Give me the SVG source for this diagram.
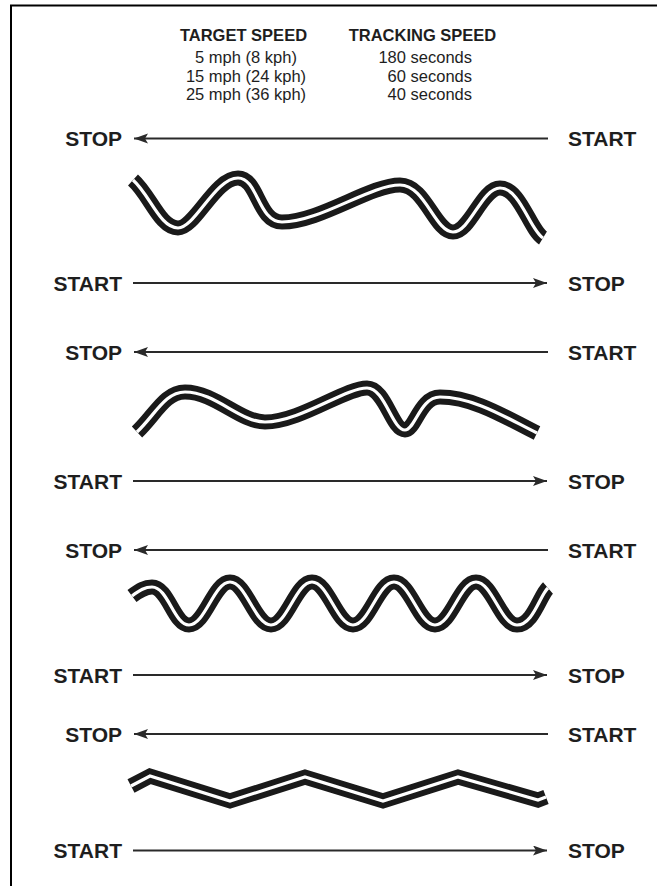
<svg xmlns="http://www.w3.org/2000/svg" width="657" height="886" viewBox="0 0 657 886">
<style>
.lbl{font-family:"Liberation Sans",Arial,sans-serif;font-weight:bold;font-size:21px;fill:#1e1e1e}
.hd{font-family:"Liberation Sans",Arial,sans-serif;font-weight:bold;font-size:16.5px;fill:#1e1e1e}
.tx{font-family:"Liberation Sans",Arial,sans-serif;font-size:16.5px;fill:#1e1e1e}
.arr{stroke:#2a2a2a;stroke-width:2;fill:none;marker-end:url(#ah)}
.rb{fill:none;stroke:#1a1a1a;stroke-width:15}
.rw{fill:none;stroke:#fff;stroke-width:3.2}
</style>
<defs>
<marker id="ah" markerWidth="16" markerHeight="12" refX="14" refY="5" orient="auto" markerUnits="userSpaceOnUse">
<path d="M0,0 L14,5 L0,10 L3,5 Z" fill="#2a2a2a"/>
</marker>
<path id="road1" d="M133,180 C150,195 160,228 178,228 C195,228 215,178 238,178 C258,178 258,222 282,222 C320,222 370,185 400,185 C425,185 435,232 453,232 C470,232 482,188 500,188 C520,188 530,230 543,238"/>
<path id="road2" d="M137,432 C155,415 165,392 185,392 C215,392 240,422 265,422 C300,422 345,388 367,388 C385,388 392,430 405,430 C415,430 420,397 440,397 C475,397 510,420 537,433"/>
<path id="road3" d="M132,596 C140,590 145,587 152,587 C168,587 174,625 189,625 C205,625 214,582 230,582 S255,625 271,625 S296,582 312,582 S337,625 353,625 S378,582 394,582 S419,625 435,625 S460,582 476,582 S501,625 517,625 S540,595 548,588"/>
<path id="road4" d="M131,786 L150,776 L230,801 L305,777 L383,801 L458,777 L538,800 L546,797"/>
</defs>
<rect width="657" height="886" fill="#fff"/>
<path d="M11,886 L11,5.5 L657,5.5" fill="none" stroke="#000" stroke-width="2"/>

<g id="header">
<text class="hd" x="243.5" y="41" text-anchor="middle">TARGET SPEED</text>
<text class="hd" x="422.5" y="41" text-anchor="middle">TRACKING SPEED</text>
<text class="tx" x="246" y="63" text-anchor="middle">5 mph (8 kph)</text>
<text class="tx" x="246" y="81.5" text-anchor="middle">15 mph (24 kph)</text>
<text class="tx" x="246" y="100" text-anchor="middle">25 mph (36 kph)</text>
<text class="tx" x="472" y="63" text-anchor="end">180 seconds</text>
<text class="tx" x="472" y="81.5" text-anchor="end">60 seconds</text>
<text class="tx" x="472" y="100" text-anchor="end">40 seconds</text>
</g>

<g id="roads">
<use href="#road1" class="rb"/><use href="#road1" class="rw"/>
<use href="#road2" class="rb"/><use href="#road2" class="rw"/>
<use href="#road3" class="rb"/><use href="#road3" class="rw"/>
<use href="#road4" class="rb"/><use href="#road4" class="rw"/>
</g>

<g id="labels">
<g id="row1"><text class="lbl" x="122" y="146" text-anchor="end">STOP</text><text class="lbl" x="568" y="146">START</text></g>
<g id="row2"><text class="lbl" x="122" y="290.5" text-anchor="end">START</text><text class="lbl" x="568" y="290.5">STOP</text></g>
<g id="row3"><text class="lbl" x="122" y="359.5" text-anchor="end">STOP</text><text class="lbl" x="568" y="359.5">START</text></g>
<g id="row4"><text class="lbl" x="122" y="488.5" text-anchor="end">START</text><text class="lbl" x="568" y="488.5">STOP</text></g>
<g id="row5"><text class="lbl" x="122" y="557.5" text-anchor="end">STOP</text><text class="lbl" x="568" y="557.5">START</text></g>
<g id="row6"><text class="lbl" x="122" y="682.5" text-anchor="end">START</text><text class="lbl" x="568" y="682.5">STOP</text></g>
<g id="row7"><text class="lbl" x="122" y="741.5" text-anchor="end">STOP</text><text class="lbl" x="568" y="741.5">START</text></g>
<g id="row8"><text class="lbl" x="122" y="858" text-anchor="end">START</text><text class="lbl" x="568" y="858">STOP</text></g>
</g>

<g id="connectors">
<path class="arr" d="M548,138.5 L134,138.5"/>
<path class="arr" d="M133,283 L547,283"/>
<path class="arr" d="M548,352 L134,352"/>
<path class="arr" d="M133,481 L547,481"/>
<path class="arr" d="M548,550 L134,550"/>
<path class="arr" d="M133,675 L547,675"/>
<path class="arr" d="M548,734 L134,734"/>
<path class="arr" d="M133,850.5 L547,850.5"/>
</g>
</svg>
